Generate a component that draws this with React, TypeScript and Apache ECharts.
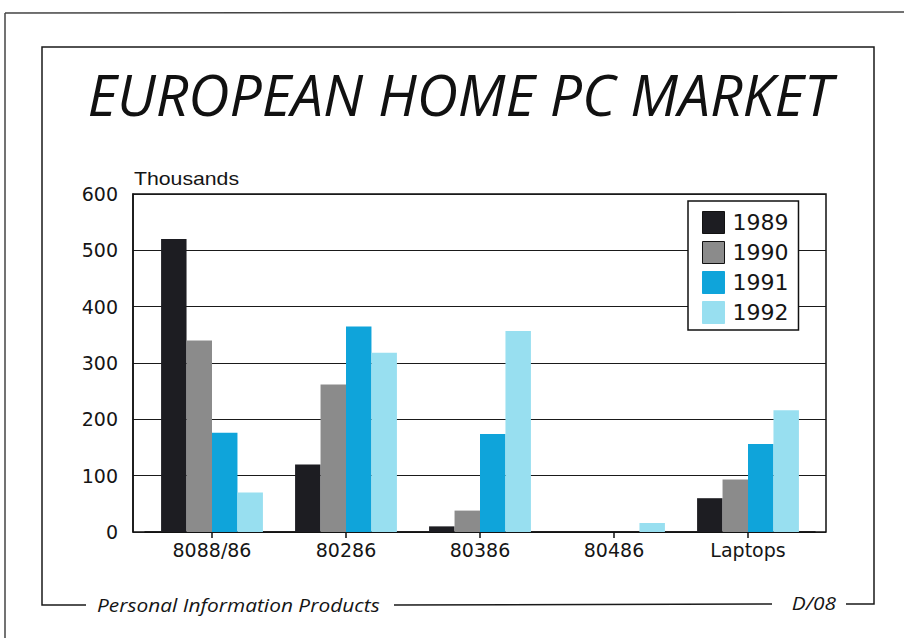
import React, { useEffect, useRef } from "react";
import * as echarts from "echarts";

const categories = ["8088/86", "80286", "80386", "80486", "Laptops"];
const seriesNames = ["1989", "1990", "1991", "1992"];
const values1989 = [520, 120, 10, 0, 60];
const values1990 = [340, 262, 38, 0, 93];
const values1991 = [176, 365, 174, 0, 156];
const values1992 = [70, 318, 357, 16, 216];
const yTicks = [0, 100, 200, 300, 400, 500, 600];

const colors = ["#1d1d22", "#8b8b8b", "#0fa4da", "#98dff0"];

export default function App() {
  const ref = useRef<HTMLDivElement>(null);
  useEffect(() => {
    if (!ref.current) return;
    const chart = echarts.init(ref.current, null, { renderer: "svg" });
    const allValues = [values1989, values1990, values1991, values1992];
    const labelFont = "'DejaVu Sans', 'Liberation Sans', sans-serif";
    const italicFont = "'Open Sans', 'Noto Sans', sans-serif";
    chart.setOption({
      animation: false,
      backgroundColor: "#ffffff",
      grid: [
        { left: 133, right: 78, top: 194, bottom: 106, show: true, borderColor: "#111", borderWidth: 1.5, backgroundColor: "transparent" },
        { left: 145, right: 89, top: 194, bottom: 106 },
      ],
      xAxis: [
        { type: "value", gridIndex: 0, min: 0, max: 1, show: false },
        {
          type: "category",
          gridIndex: 1,
          data: categories,
          axisLine: { show: true, lineStyle: { color: "#111", width: 1.5 } },
          axisTick: { show: true, alignWithLabel: true, length: 6, lineStyle: { color: "#111", width: 1.5 } },
          axisLabel: { fontFamily: labelFont, fontSize: 19, color: "#151515", margin: 8 },
        },
      ],
      yAxis: [
        {
          type: "value",
          gridIndex: 0,
          min: yTicks[0],
          max: yTicks[yTicks.length - 1],
          interval: 100,
          axisLine: { show: true, lineStyle: { color: "#111", width: 1.5 } },
          axisTick: { show: false },
          splitLine: { show: true, lineStyle: { color: "#1a1a1a", width: 1.2 } },
          axisLabel: { fontFamily: labelFont, fontSize: 19, color: "#151515", margin: 15 },
        },
        { type: "value", gridIndex: 1, min: 0, max: 600, interval: 100, show: false },
      ],
      legend: {
        orient: "vertical",
        left: 688,
        top: 201,
        data: seriesNames.map((n, i) => ({
          name: n,
          itemStyle: { borderColor: i < 2 ? "#111" : colors[i], borderWidth: 1 },
        })),
        backgroundColor: "#ffffff",
        borderColor: "#111",
        borderWidth: 1.5,
        borderRadius: 0,
        padding: [10, 10, 6, 14],
        itemWidth: 22,
        itemHeight: 22,
        itemGap: 7,
        icon: "rect",
        textStyle: { fontFamily: labelFont, fontSize: 22, color: "#151515", padding: [0, 0, 0, 3] },
      },
      series: seriesNames.map((name, i) => ({
        name,
        type: "bar",
        xAxisIndex: 1,
        yAxisIndex: 1,
        data: allValues[i],
        barGap: "0%",
        barCategoryGap: "24%",
        itemStyle: { color: colors[i] },
        z: 3,
      })),
      graphic: [
        { type: "line", shape: { x1: 5, y1: 13, x2: 904, y2: 12 }, style: { stroke: "#444", lineWidth: 1.5 } },
        { type: "line", shape: { x1: 5, y1: 13, x2: 5, y2: 638 }, style: { stroke: "#444", lineWidth: 1.5 } },
        {
          type: "polyline",
          shape: { points: [[86, 605], [42, 605], [42, 47], [874, 47], [874, 604], [846, 604]] },
          style: { stroke: "#1a1a1a", lineWidth: 1.5, fill: "none" },
        },
        { type: "line", shape: { x1: 394, y1: 605, x2: 772, y2: 604 }, style: { stroke: "#1a1a1a", lineWidth: 1.5 } },
        {
          type: "text",
          x: 460,
          y: 94,
          style: {
            text: "EUROPEAN HOME PC MARKET",
            font: "italic 400 57px 'Open Sans', 'Noto Sans', sans-serif",
            fill: "#111",
            textAlign: "center",
            textVerticalAlign: "middle",
          },
        },
        {
          type: "text",
          x: 134,
          y: 179,
          scaleX: 1.18,
          style: {
            text: "Thousands",
            font: "18px 'Liberation Sans', Arial, sans-serif",
            fill: "#151515",
            textAlign: "left",
            textVerticalAlign: "middle",
          },
        },
        {
          type: "text",
          x: 97,
          y: 605,
          scaleX: 1.13,
          style: {
            text: "Personal Information Products",
            font: "italic 18.5px " + italicFont,
            fill: "#151515",
            textAlign: "left",
            textVerticalAlign: "middle",
          },
        },
        {
          type: "text",
          x: 836,
          y: 603,
          scaleX: 1.13,
          style: {
            text: "D/08",
            font: "italic 18.5px " + italicFont,
            fill: "#151515",
            textAlign: "right",
            textVerticalAlign: "middle",
          },
        },
      ],
    });
    return () => chart.dispose();
  }, []);
  return <div ref={ref} style={{ position: "fixed", left: 0, top: 0, width: 904, height: 638 }} />;
}
